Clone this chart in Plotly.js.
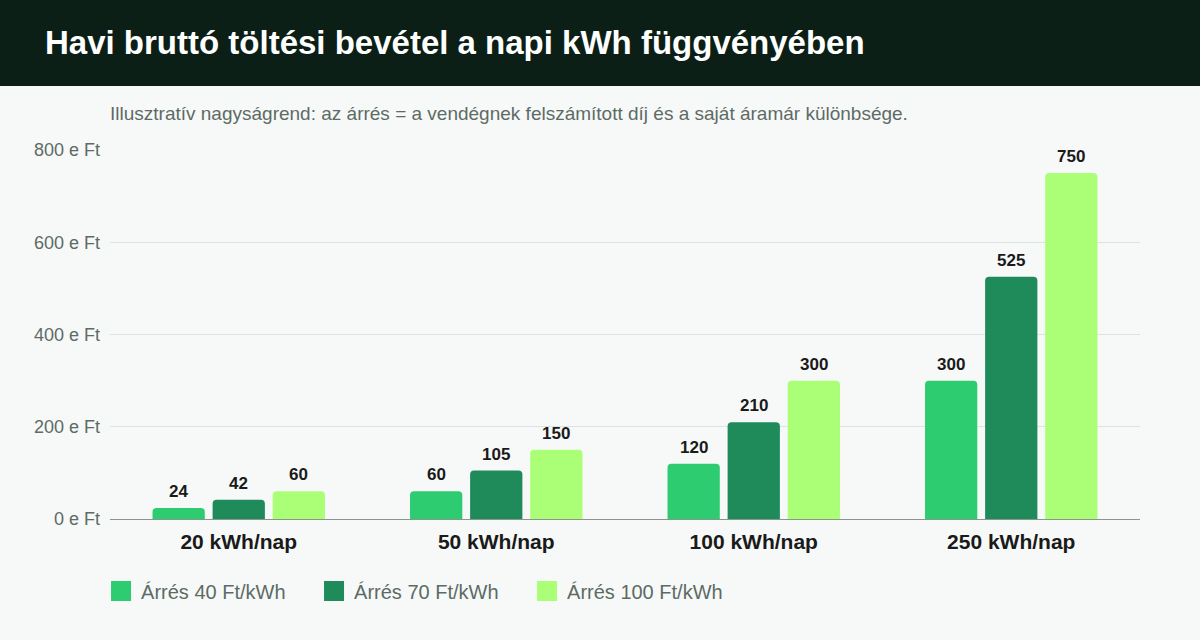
<!DOCTYPE html>
<html>
<head>
<meta charset="utf-8">
<script src="https://cdn.plot.ly/plotly-3.0.1.min.js"></script>
<style>
  body { margin: 0; background: #f7f9f8; font-family: "Liberation Sans", Arial, sans-serif; }
  #head { height: 86px; background: #0b1f17; color: #fff; font-weight: bold; font-size: 33px; line-height: 86px; padding-left: 45px; box-sizing: border-box; }
  #chart { width: 1200px; height: 554px; }
</style>
</head>
<body>
<div id="head">Havi bruttó töltési bevétel a napi kWh függvényében</div>
<div id="chart"></div>
<script>
// napi töltött energia kategóriák
const categories = ['20 kWh/nap', '50 kWh/nap', '100 kWh/nap', '250 kWh/nap'];
// havi bevétel, ezer Ft
const arres40 = [24, 60, 120, 300];
const arres70 = [42, 105, 210, 525];
const arres100 = [60, 150, 300, 750];
const seriesNames = ['Árrés 40 Ft/kWh', 'Árrés 70 Ft/kWh', 'Árrés 100 Ft/kWh'];
const yTicks = [0, 200, 400, 600, 800];

const colors = ['#2ecc71', '#1f8b5a', '#aaff77'];
const series = [arres40, arres70, arres100];

const bars = series.map((vals, i) => ({
  type: 'bar',
  name: seriesNames[i],
  x: categories,
  y: vals,
  showlegend: false,
  marker: { color: colors[i], line: { width: 0 } },
  hoverinfo: 'skip'
}));

// nagyobb, kerekített jelmagyarázat-négyzetek
const legendItems = seriesNames.map((n, i) => ({
  type: 'scatter',
  mode: 'markers',
  name: n,
  x: [null],
  y: [null],
  marker: { symbol: 'square', size: 16, color: colors[i], line: { color: colors[i], width: 4 } },
  hoverinfo: 'skip'
}));

// értékcímkék az oszlopok fölött
const slot = 60; // oszlopközép távolság px
const labels = [];
series.forEach((vals, i) => {
  vals.forEach((v, j) => {
    labels.push({
      x: categories[j], y: v, xref: 'x', yref: 'y',
      text: String(v), showarrow: false,
      xshift: (i - 1) * slot, yshift: 5, yanchor: 'bottom',
      font: { size: 17, color: '#1a1a1a', weight: 'bold' }
    });
  });
});

const layout = {
  width: 1200,
  height: 554,
  margin: { l: 110, r: 60, t: 64, b: 121 },
  paper_bgcolor: '#f7f9f8',
  plot_bgcolor: '#f7f9f8',
  font: { family: 'Liberation Sans, Arial', color: '#5d6b65' },
  title: {
    text: 'Illusztratív nagyságrend: az árrés = a vendégnek felszámított díj és a saját áramár különbsége.',
    font: { size: 19, color: '#5d6b65' },
    x: 0, xref: 'paper', xanchor: 'left',
    y: 0.951, yref: 'container', yanchor: 'middle'
  },
  barmode: 'group',
  bargap: 0.30,
  bargroupgap: 0.13,
  barcornerradius: 4,
  annotations: labels,
  xaxis: {
    type: 'category',
    tickfont: { size: 21, color: '#1a1a1a', weight: 'bold' },
    showgrid: false,
    showline: true,
    linecolor: '#8a9590',
    linewidth: 1,
    ticks: '',
    ticklabelstandoff: 4
  },
  yaxis: {
    range: [0, 800],
    tickvals: yTicks,
    ticktext: yTicks.map(v => v + ' e Ft'),
    tickfont: { size: 18, color: '#5d6b65' },
    gridcolor: '#dde3e0',
    gridwidth: 1,
    zeroline: false,
    showline: false,
    ticks: '',
    ticklabelstandoff: 9
  },
  showlegend: true,
  legend: {
    orientation: 'h',
    x: -0.0087, xanchor: 'left',
    y: -0.195, yanchor: 'middle',
    font: { size: 20, color: '#5d6b65' },
    entrywidth: 168,
    entrywidthmode: 'pixels',
    bgcolor: 'rgba(0,0,0,0)'
  }
};

Plotly.newPlot('chart', bars.concat(legendItems), layout, { displayModeBar: false, staticPlot: true });
</script>
</body>
</html>
